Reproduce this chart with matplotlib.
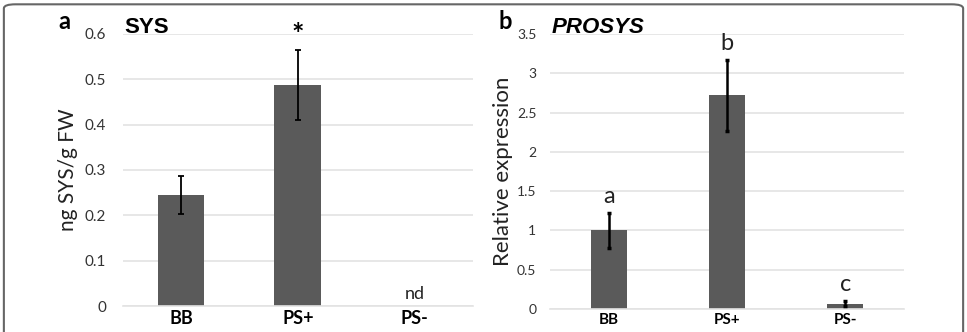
import matplotlib.pyplot as plt
from matplotlib.patches import FancyBboxPatch

cats = ["BB", "PS+", "PS-"]

sys_vals = [0.245, 0.488, 0.0]
sys_err = [0.042, 0.077, 0.0]

prosys_vals = [1.0, 2.72, 0.07]
prosys_err = [0.22, 0.45, 0.03]
prosys_letters = ["a", "b", "c"]

plt.rcParams['font.family'] = ['Lato', 'DejaVu Sans']

bar_col = "#5a5a5a"
grid_col = "#e3e3e3"

fig = plt.figure(figsize=(9.67, 3.32), dpi=100)

# rounded frame around the figure
frame = FancyBboxPatch((0.004, -0.2), 0.992, 1.187,
                       boxstyle="round,pad=0,rounding_size=0.012",
                       transform=fig.transFigure, fill=False,
                       edgecolor="#666666", linewidth=1.5, clip_on=False)
fig.patches.append(frame)

ax1 = fig.add_axes([0.127, 0.078, 0.362, 0.82])
ax2 = fig.add_axes([0.569, 0.069, 0.366, 0.829])

def style(ax, ymax, step):
    ax.set_ylim(0, ymax)
    ax.set_xlim(-0.5, 2.5)
    ticks = [round(i * step, 2) for i in range(int(round(ymax / step)) + 1)]
    ax.set_yticks(ticks)
    ax.set_yticklabels([("%g" % t) for t in ticks])
    ax.grid(axis="y", color=grid_col, linewidth=1.2)
    ax.set_axisbelow(True)
    for s in ["top", "right", "left"]:
        ax.spines[s].set_visible(False)
    ax.spines["bottom"].set_color(grid_col)
    ax.spines["bottom"].set_linewidth(1.2)
    ax.tick_params(length=0)

# panel a
style(ax1, 0.6, 0.1)
ax1.bar(range(3), sys_vals, width=0.4, color=bar_col, zorder=2)
ax1.errorbar([0, 1], sys_vals[:2], yerr=sys_err[:2], fmt="none",
             ecolor="black", elinewidth=1.3, capsize=2.5, capthick=1.3, zorder=3)
ax1.set_xticks(range(3))
ax1.set_xticklabels(cats, fontsize=13, fontweight="bold")
ax1.tick_params(axis="y", labelsize=11, colors="#333333", pad=12)
ax1.tick_params(axis="x", pad=3)
ax1.set_ylabel("ng SYS/g FW", fontsize=15, color="#222222", labelpad=5)
ax1.text(1, 0.568, "*", ha="center", va="bottom", fontsize=21, fontweight="bold")
ax1.text(2, 0.01, "nd", ha="center", va="bottom", fontsize=13, color="#222222")
fig.text(0.06, 0.9, "a", fontsize=17, fontweight="bold", ha="left", va="bottom")
ax1.text(0.005, 0.985, "SYS", transform=ax1.transAxes, fontsize=16,
         fontweight="bold", ha="left", va="bottom", family="Liberation Sans")

# panel b
style(ax2, 3.5, 0.5)
ax2.bar(range(3), prosys_vals, width=0.31, color=bar_col, zorder=2)
ax2.errorbar(range(3), prosys_vals, yerr=prosys_err, fmt="none",
             ecolor="black", elinewidth=1.8, capsize=1.5, capthick=2.5, zorder=3)
ax2.set_xticks(range(3))
ax2.set_xticklabels(cats, fontsize=11, fontweight="bold")
ax2.tick_params(axis="y", labelsize=10, colors="#333333", pad=10)
ax2.tick_params(axis="x", pad=3)
ax2.set_ylabel("Relative expression", fontsize=16, color="#222222", labelpad=3)
for i, l in enumerate(prosys_letters):
    ax2.text(i, prosys_vals[i] + prosys_err[i] + 0.08, l, ha="center",
             va="bottom", fontsize=17, color="#222222")
fig.text(0.516, 0.9, "b", fontsize=17, fontweight="bold", ha="left", va="bottom")
ax2.text(0.005, 0.985, "PROSYS", transform=ax2.transAxes, fontsize=16,
         fontweight="bold", style="italic", ha="left", va="bottom",
         family="Liberation Sans")

fig.savefig("out.png", dpi=100)
